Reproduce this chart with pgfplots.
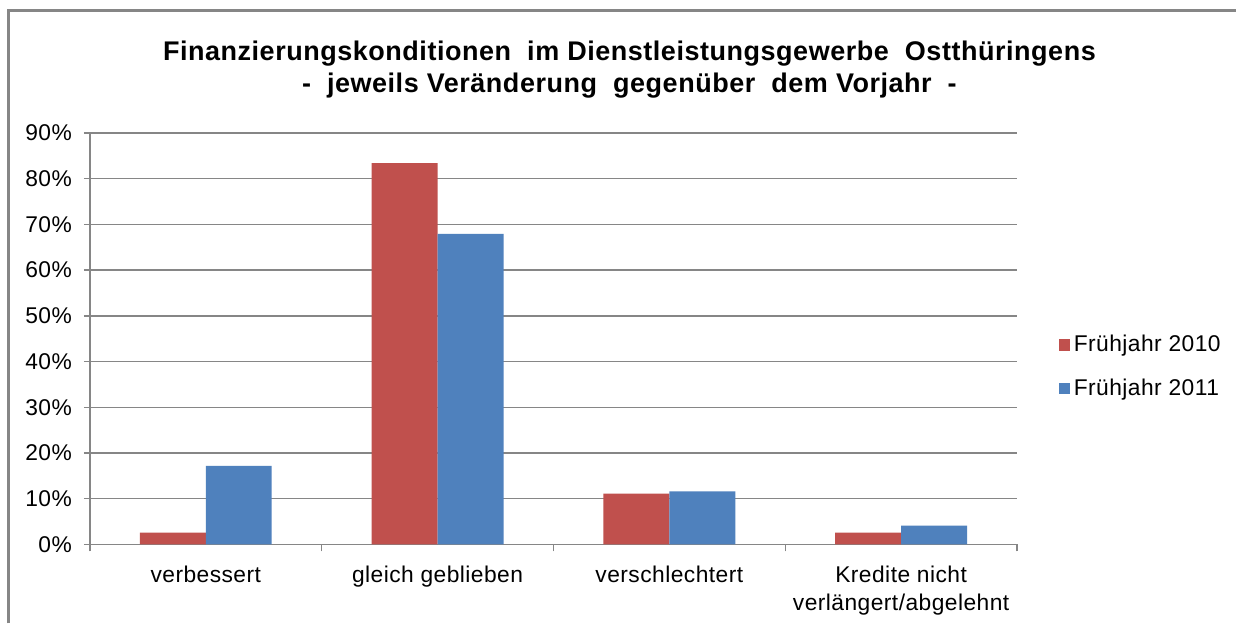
\documentclass[border=0pt]{standalone}
\usepackage{pgfplots}
\pgfplotsset{compat=1.18}
\usepackage{fontspec}
\setmainfont{Liberation Sans}
\newfontfamily\lsfont[LetterSpace=2]{Liberation Sans}
\definecolor{cred}{HTML}{C0504D}
\definecolor{cblue}{HTML}{4F81BD}
\definecolor{gridg}{HTML}{868686}
\begin{document}
\begin{tikzpicture}
% canvas 1237x624 px at 0.5pt/px
\fill[white] (0,0) rectangle (618.5pt,312pt);
\draw[gridg,line width=1.2pt] (4.2pt,0) -- (4.2pt,306.7pt) -- (618.5pt,306.7pt);
\node[font=\lsfont\bfseries\fontsize{13.5}{16}\selectfont,align=center] at (315pt,277pt)
  {Finanzierungskonditionen\ \ im Dienstleistungsgewerbe\ \ Ostthüringens\\
   -\ \ jeweils Veränderung\ \ gegenüber\ \ dem Vorjahr\ \ -};
\begin{axis}[
  at={(45pt,39.5pt)}, anchor=south west,
  scale only axis, width=464pt, height=206pt,
  ybar=0pt, bar width=33pt,
  xmin=-0.5, xmax=3.5, ymin=0, ymax=90,
  axis lines=left, axis line style={gridg,-,line width=0.7pt},
  xtick={0,1,2,3},
  xticklabels={verbessert,gleich geblieben,verschlechtert,{Kredite nicht\\verlängert/abgelehnt}},
  x tick label style={align=center, font=\lsfont\fontsize{11.4}{14.5}\selectfont, yshift=-4pt},
  major x tick style={draw=none},
  minor xtick={-0.5,0.5,1.5,2.5,3.5},
  minor x tick style={gridg,line width=0.7pt},
  minor tick length=3.5pt,
  ytick={0,10,...,90},
  yticklabel={\pgfmathprintnumber{\tick}\%},
  y tick label style={font=\lsfont\fontsize{11.4}{12}\selectfont, xshift=-2.5pt},
  /pgf/number format/assume math mode=true,
  major y tick style={gridg,line width=0.7pt},
  tick align=outside, major tick length=3pt,
  ymajorgrids, grid style={gridg,line width=0.7pt},
  legend style={at={(1.038,0.432)}, anchor=west, draw=none, fill=none,
    font=\lsfont\fontsize{11.4}{12}\selectfont, row sep=8pt,
    /tikz/every even column/.append style={column sep=2pt}},
  legend image code/.code={\fill[#1] (0pt,-2.8pt) rectangle (5.6pt,2.8pt);},
  legend cell align=left,
]
\addplot[fill=cred, draw=none] coordinates {(0,2.6) (1,83.4) (2,11.1) (3,2.6)};
\addplot[fill=cblue, draw=none] coordinates {(0,17.2) (1,67.9) (2,11.6) (3,4.1)};
\legend{Frühjahr 2010,Frühjahr 2011}
\end{axis}
\end{tikzpicture}
\end{document}
